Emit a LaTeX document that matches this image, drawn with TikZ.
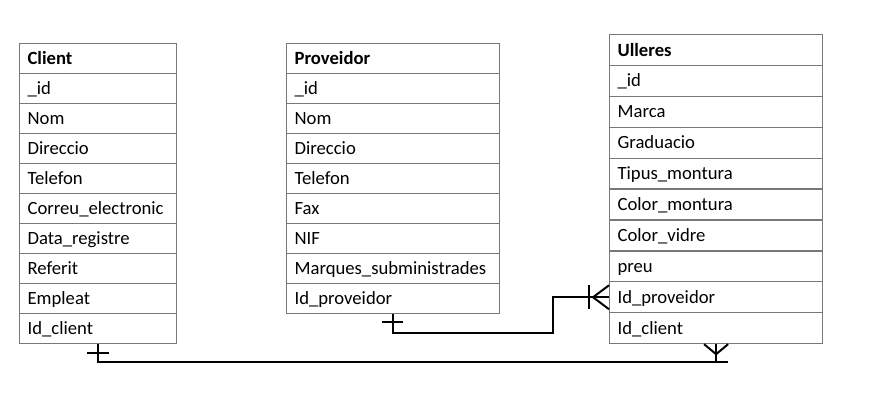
\documentclass[tikz,border=0pt]{standalone}
\usepackage{fontspec}
\setmainfont{Carlito}
\usetikzlibrary{calc}
\begin{document}
\begin{tikzpicture}[x=1pt,y=-1pt,
  row/.style={draw=tblgray,line width=1.2pt,rectangle,anchor=north west,inner xsep=8pt,inner ysep=0pt,align=left,text height=13pt,text depth=1pt,font=\fontsize{18.67}{22}\selectfont},
  conn/.style={draw=black,line width=2pt}]
\definecolor{tblgray}{RGB}{120,120,120}
\useasboundingbox (0,0) rectangle (875,414);
% Client
\foreach \t [count=\i from 0] in {\textbf{Client},\_id,Nom,Direccio,Telefon,Correu\_electronic,Data\_registre,Referit,Empleat,Id\_client}
  \node[row,text width=141pt,minimum height=30pt] (c\i) at (19,43+30*\i) {\t};
% Proveidor
\foreach \t [count=\i from 0] in {\textbf{Proveidor},\_id,Nom,Direccio,Telefon,Fax,NIF,Marques\_subministrades,Id\_proveidor}
  \node[row,text width=197pt,minimum height=30pt] (p\i) at (286,43+30*\i) {\t};
% Ulleres
\foreach \t [count=\i from 0] in {\textbf{Ulleres},\_id,Marca,Graduacio,Tipus\_montura,Color\_montura,Color\_vidre,preu,Id\_proveidor,Id\_client}
  \node[row,text width=197pt,minimum height=30.9pt] (u\i) at (609,34+30.9*\i) {\t};
% Proveidor -> Ulleres
\coordinate (pbend) at ($(u8.west)+(-56,0)$);
\draw[conn] (p8.south) -- ++(0,19) -| (pbend) -- (u8.west);
\draw[conn] ($(p8.south)+(-11,8)$) -- ++(21,0);
\draw[conn] ($(u8.west)+(-20,-12)$) -- ++(0,24);
\draw[conn] ($(u8.west)+(0,-12)$) -- ($(u8.west)+(-16,0)$) -- ($(u8.west)+(0,12)$);
% Client -> Ulleres
\draw[conn] (c9.south) -- ++(0,18) -| (u9.south);
\draw[conn] ($(c9.south)+(-11,9)$) -- ++(22,0);
\draw[conn] ($(u9.south)+(-12,18)$) -- ++(24,0);
\draw[conn] ($(u9.south)+(-12,0)$) -- ($(u9.south)+(0,10)$) -- ($(u9.south)+(12,0)$);
\end{tikzpicture}
\end{document}
